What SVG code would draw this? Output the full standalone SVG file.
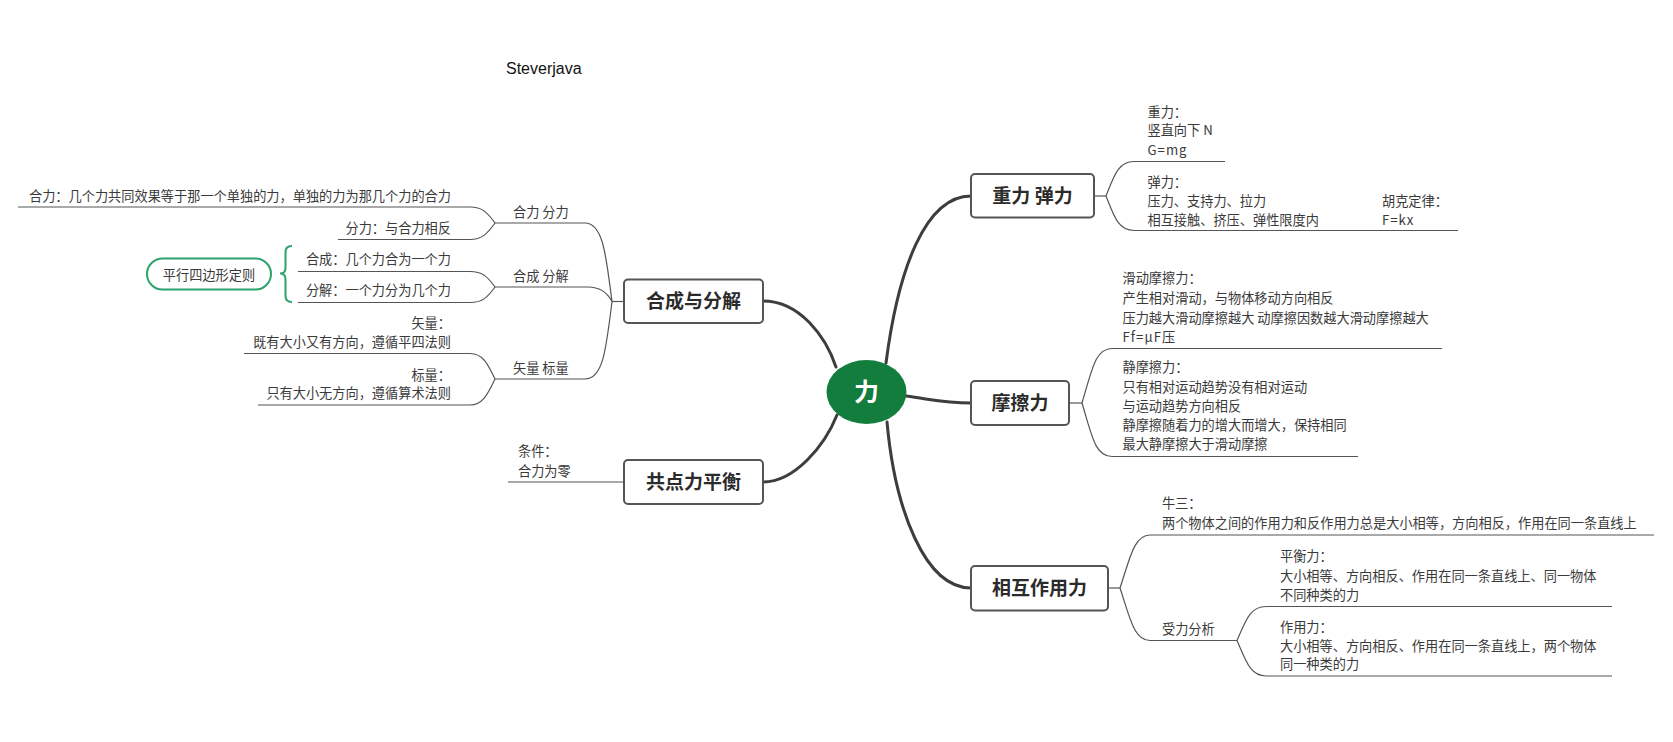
<svg xmlns="http://www.w3.org/2000/svg" width="1673" height="742" viewBox="0 0 1673 742">
  <style>
    .t { font-family: "Noto Sans CJK SC", "Liberation Sans", sans-serif; font-size: 13.2px; fill: #3a3a3a; }
    .tr { text-anchor: end; }
    .box { fill: #fff; stroke: #555; stroke-width: 2; }
    .bt { font-family: "Noto Sans CJK SC", "Liberation Sans", sans-serif; font-size: 19px; font-weight: bold; fill: #2b2b2b; text-anchor: middle; }
    .main { fill: none; stroke: #3d3d3d; stroke-width: 3; stroke-linecap: round; }
    .sub { fill: none; stroke: #555; stroke-width: 1.2; }
    .green { fill: none; stroke: #2ba36a; stroke-width: 2; }
  </style>

  <rect width="1673" height="742" fill="#fff"/>

  <text x="506" y="73.5" font-family="Liberation Sans, Arial, sans-serif" font-size="16" fill="#111">Steverjava</text>

  <!-- connectors -->
  <g id="connectors">
    <!-- root to main topics -->
    <path class="main" d="M 836 367 C 826 337 800 301 763 301"/>
    <path class="main" d="M 837 415 C 825 445 795 482 763 482"/>
    <path class="main" d="M 886 363 C 898 270 925 196 971 196"/>
    <path class="main" d="M 906 396 C 935 400 945 403 971 403"/>
    <path class="main" d="M 887 422 C 895 510 925 588 971 588"/>

    <!-- 合成与分解 branches -->
    <path class="sub" d="M 624 301.5 L 612 301.5"/>
    <path class="sub" d="M 612 301.5 C 606 255 603 223 585 223 L 495 223"/>
    <path class="sub" d="M 612 301.5 C 607 292 600 287 588 287 L 495 287"/>
    <path class="sub" d="M 612 301.5 C 606 350 603 379 585 379 L 495 379"/>
    <path class="sub" d="M 495 223 C 487 212 482 207 470 207 L 18 207"/>
    <path class="sub" d="M 495 223 C 487 234 482 239.5 470 239.5 L 338 239.5"/>
    <path class="sub" d="M 495 287 C 487 276 482 271.5 470 271.5 L 298 271.5"/>
    <path class="sub" d="M 495 287 C 487 298 482 302.5 470 302.5 L 298 302.5"/>
    <path class="sub" d="M 495 379 C 487 362 482 353.5 470 353.5 L 244 353.5"/>
    <path class="sub" d="M 495 379 C 487 396 482 405 470 405 L 258 405"/>

    <!-- 共点力平衡 branch -->
    <path class="sub" d="M 624 482 L 508 482"/>

    <!-- 重力 弹力 branches -->
    <path class="sub" d="M 1094 196 L 1106 196"/>
    <path class="sub" d="M 1106 196 C 1114 176 1118 161.5 1134 161.5 L 1225 161.5"/>
    <path class="sub" d="M 1106 196 C 1114 216 1118 230.5 1134 230.5 L 1458 230.5"/>

    <!-- 摩擦力 branches -->
    <path class="sub" d="M 1069 403 L 1082 403"/>
    <path class="sub" d="M 1082 403 C 1092 370 1095 348.5 1112 348.5 L 1442 348.5"/>
    <path class="sub" d="M 1082 403 C 1092 436 1095 456.5 1112 456.5 L 1358 456.5"/>

    <!-- 相互作用力 branches -->
    <path class="sub" d="M 1108 588 L 1120 588"/>
    <path class="sub" d="M 1120 588 C 1130 558 1134 535 1150 535 L 1654 535"/>
    <path class="sub" d="M 1120 588 C 1130 618 1134 640.5 1150 640.5 L 1237 640.5"/>
    <path class="sub" d="M 1237 640.5 C 1246 620 1250 606.5 1266 606.5 L 1612 606.5"/>
    <path class="sub" d="M 1237 640.5 C 1246 661 1250 676 1266 676 L 1612 676"/>
  </g>

  <!-- central topic -->
  <g id="root">
    <ellipse cx="866.5" cy="392" rx="40" ry="32" fill="#137d3e"/>
    <text x="866.5" y="401" font-family="Noto Sans CJK SC, sans-serif" font-size="25" font-weight="bold" fill="#fff" text-anchor="middle">力</text>
  </g>

  <!-- 合成与分解 -->
  <g id="node-hecheng">
    <rect class="box" x="624" y="279.5" width="139" height="43.5" rx="4"/>
    <text class="bt" x="693.5" y="308">合成与分解</text>
  </g>
  <g id="node-heli-fenli">
    <text class="t" x="513" y="216.5">合力 分力</text>
    <text class="t tr" x="451" y="201">合力：几个力共同效果等于那一个单独的力，单独的力为那几个力的合力</text>
    <text class="t tr" x="451" y="233">分力：与合力相反</text>
  </g>
  <g id="node-hecheng-fenjie">
    <text class="t" x="513" y="280.5">合成 分解</text>
    <text class="t tr" x="451" y="264.3">合成：几个力合为一个力</text>
    <text class="t tr" x="451" y="295">分解：一个力分为几个力</text>
  </g>
  <g id="node-parallelogram">
    <rect x="147" y="258.5" width="124" height="31" rx="15.5" fill="#fff" class="green"/>
    <text class="t" x="209" y="280" text-anchor="middle" fill="#222">平行四边形定则</text>
    <path class="green" d="M 292 246 Q 285.5 246 285.5 252 L 285.5 268 Q 285.5 273.5 280 273.5 Q 285.5 273.5 285.5 279 L 285.5 296 Q 285.5 302 292 302"/>
  </g>
  <g id="node-vector-scalar">
    <text class="t" x="513" y="372.5">矢量 标量</text>
    <text class="t tr" x="451" y="327.5">矢量：</text>
    <text class="t tr" x="451" y="346.5">既有大小又有方向，遵循平四法则</text>
    <text class="t tr" x="451" y="380">标量：</text>
    <text class="t tr" x="451" y="397.5">只有大小无方向，遵循算术法则</text>
  </g>

  <!-- 共点力平衡 -->
  <g id="node-equilibrium">
    <rect class="box" x="624" y="460" width="139" height="44" rx="4"/>
    <text class="bt" x="693.5" y="489">共点力平衡</text>
    <text class="t" x="518" y="455.5">条件：</text>
    <text class="t" x="518" y="475.5">合力为零</text>
  </g>

  <!-- 重力 弹力 -->
  <g id="node-gravity-elastic">
    <rect class="box" x="971" y="174" width="123" height="43.5" rx="4"/>
    <text class="bt" x="1032.5" y="203">重力 弹力</text>
    <text class="t" x="1147.5" y="116.5">重力：</text>
    <text class="t" x="1147.5" y="135">竖直向下 N</text>
    <text class="t" x="1147.5" y="155" letter-spacing="1">G=mg</text>
    <text class="t" x="1147.5" y="187">弹力：</text>
    <text class="t" x="1147.5" y="205.5">压力、支持力、拉力</text>
    <text class="t" x="1147.5" y="225">相互接触、挤压、弹性限度内</text>
    <text class="t" x="1382" y="205.5">胡克定律：</text>
    <text class="t" x="1382" y="225" letter-spacing="1">F=kx</text>
  </g>

  <!-- 摩擦力 -->
  <g id="node-friction">
    <rect class="box" x="971" y="381" width="98" height="44" rx="4"/>
    <text class="bt" x="1020" y="410">摩擦力</text>
    <text class="t" x="1122.5" y="283">滑动摩擦力：</text>
    <text class="t" x="1122.5" y="303">产生相对滑动，与物体移动方向相反</text>
    <text class="t" x="1122.5" y="322.5">压力越大滑动摩擦越大 动摩擦因数越大滑动摩擦越大</text>
    <text class="t" x="1122.5" y="341.5" letter-spacing="1">Ff=μF压</text>
    <text class="t" x="1122.5" y="372">静摩擦力：</text>
    <text class="t" x="1122.5" y="391.5">只有相对运动趋势没有相对运动</text>
    <text class="t" x="1122.5" y="410.5">与运动趋势方向相反</text>
    <text class="t" x="1122.5" y="430">静摩擦随着力的增大而增大，保持相同</text>
    <text class="t" x="1122.5" y="449">最大静摩擦大于滑动摩擦</text>
  </g>

  <!-- 相互作用力 -->
  <g id="node-interaction">
    <rect class="box" x="971" y="566" width="137" height="44.5" rx="4"/>
    <text class="bt" x="1039.5" y="595">相互作用力</text>
    <text class="t" x="1162" y="508">牛三：</text>
    <text class="t" x="1162" y="528">两个物体之间的作用力和反作用力总是大小相等，方向相反，作用在同一条直线上</text>
    <text class="t" x="1162" y="634">受力分析</text>
    <text class="t" x="1280" y="561">平衡力：</text>
    <text class="t" x="1280" y="580.5">大小相等、方向相反、作用在同一条直线上、同一物体</text>
    <text class="t" x="1280" y="600">不同种类的力</text>
    <text class="t" x="1280" y="631.5">作用力：</text>
    <text class="t" x="1280" y="650.5">大小相等、方向相反、作用在同一条直线上，两个物体</text>
    <text class="t" x="1280" y="669">同一种类的力</text>
  </g>
</svg>
